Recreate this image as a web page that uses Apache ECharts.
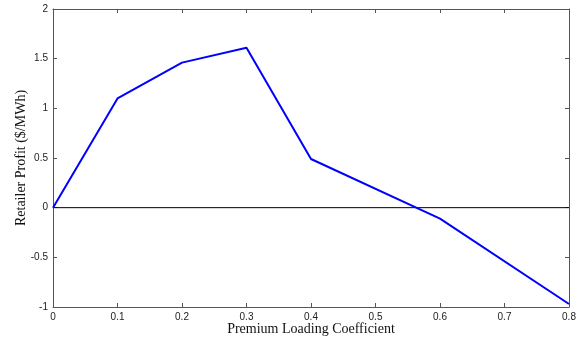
<!DOCTYPE html>
<html>
<head>
<meta charset="utf-8">
<script src="https://cdn.jsdelivr.net/npm/echarts@6/dist/echarts.min.js"></script>
<style>
  html, body { margin: 0; padding: 0; background: #fff; }
  #chart { width: 581px; height: 341px; }
</style>
</head>
<body>
<div id="chart"></div>
<script>
var xValues = [0, 0.1, 0.2, 0.3, 0.4, 0.6, 0.8];
var profit = [0, 1.1, 1.46, 1.61, 0.49, -0.11, -0.97];
var zeroLine = [[0, 0], [0.8, 0]];

var chart = echarts.init(document.getElementById("chart"));
var tickFont = { fontFamily: "Liberation Sans, Arial, sans-serif", fontSize: 10, color: "#222" };
var axisLine = { show: true, onZero: false, lineStyle: { color: "#555", width: 1 } };
var tick = { show: true, inside: true, length: 4, lineStyle: { color: "#555" } };

chart.setOption({
  animation: false,
  grid: { left: 53, right: 12, top: 9, bottom: 34, outerBoundsMode: "none", containLabel: false },
  xAxis: [{
    type: "value", min: 0, max: 0.8, interval: 0.1,
    name: "Premium Loading Coefficient", nameLocation: "middle", nameGap: 15, nameMoveOverlap: false,
    nameTextStyle: { fontFamily: "Liberation Serif, Times New Roman, serif", fontSize: 14, color: "#111" },
    axisLine: axisLine, axisTick: tick, splitLine: { show: false },
    axisLabel: Object.assign({ margin: 5, formatter: function (v) { return +v.toFixed(1) + ""; } }, tickFont)
  }, {
    type: "value", position: "top", min: 0, max: 0.8, interval: 0.1,
    axisLine: axisLine, axisTick: tick, axisLabel: { show: false }, splitLine: { show: false }
  }],
  yAxis: [{
    type: "value", min: -1, max: 2, interval: 0.5,
    name: "Retailer Profit ($/MWh)", nameLocation: "middle", nameGap: 25, nameMoveOverlap: false,
    nameTextStyle: { fontFamily: "Liberation Serif, Times New Roman, serif", fontSize: 14, color: "#111" },
    axisLine: axisLine, axisTick: tick, splitLine: { show: false },
    axisLabel: Object.assign({ margin: 5 }, tickFont)
  }, {
    type: "value", position: "right", min: -1, max: 2, interval: 0.5,
    axisLine: axisLine, axisTick: tick, axisLabel: { show: false }, splitLine: { show: false }
  }],
  series: [{
    type: "line",
    data: zeroLine,
    symbol: "none",
    lineStyle: { color: "#000", width: 1 },
    silent: true
  }, {
    type: "line",
    data: xValues.map(function (x, i) { return [x, profit[i]]; }),
    symbol: "none",
    lineStyle: { color: "#0000ff", width: 2 }
  }]
});
</script>
</body>
</html>
